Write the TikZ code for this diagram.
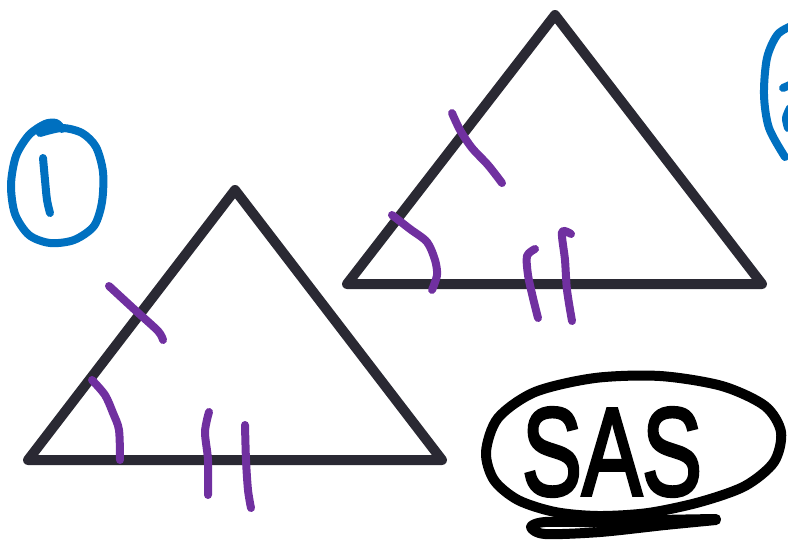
\documentclass[tikz,border=0pt]{standalone}
\usepackage{fontspec}
\newfontfamily\handfont[FakeBold=3]{Liberation Sans}
\definecolor{tri}{RGB}{42,41,51}
\definecolor{mark}{RGB}{112,48,160}
\definecolor{pen}{RGB}{0,112,192}
\tikzset{
  triline/.style={draw=tri, line width=10pt, line join=round, line cap=round},
  tick/.style={draw=mark, line width=8pt, line cap=round, line join=round},
  bluepen/.style={draw=pen, line width=8pt, line cap=round, line join=round},
  blackpen/.style={draw=black, line width=10pt, line cap=round, line join=round},
}
\begin{document}
\begin{tikzpicture}[x=1pt,y=-1pt]
\useasboundingbox (0,0) rectangle (788,547);
% triangle 1
\coordinate (A1) at (28,460);
\coordinate (B1) at (235,190);
\coordinate (C1) at (442,460);
\draw[triline] (A1) -- (B1) -- (C1) -- cycle;
% triangle 2
\coordinate (A2) at (347,284);
\coordinate (B2) at (555,15);
\coordinate (C2) at (762,284);
\draw[triline] (A2) -- (B2) -- (C2) -- cycle;
% marks triangle 1
\draw[tick] plot[smooth] coordinates {(109,286) (135,310) (158,331) (163,340)};
\draw[tick] plot[smooth] coordinates {(92,380) (105,395) (113,413) (119,430) (120,460)};
\draw[tick] plot[smooth] coordinates {(209,412) (205,432) (208,460) (208,495)};
\draw[tick] plot[smooth] coordinates {(245,425) (246,460) (248,490) (251,508)};
% marks triangle 2
\draw[tick] plot[smooth] coordinates {(452,113) (460,130) (472,148) (488,165) (502,183)};
\draw[tick] plot[smooth] coordinates {(392,215) (410,229) (427,242) (435,260) (437,275) (432,290)};
\draw[tick] plot[smooth] coordinates {(535,249) (527,256) (528,275) (533,298) (538,318)};
\draw[tick] plot[smooth] coordinates {(571,234) (562,232) (565,260) (567,290) (572,321)};
% blue 1
\draw[bluepen] plot[smooth] coordinates {(40,133) (62,128) (82,133) (96,147) (103,172) (102,202) (94,226) (74,240) (50,243) (29,235) (15,214) (11,185) (16,156) (29,135) (45,124) (56,123) (62,129)};
\draw[bluepen] plot[smooth] coordinates {(43,158) (45,180) (47,200) (50,213)};
% blue 2 (partial)
\draw[bluepen] plot[smooth] coordinates {(796,24) (778,34) (767,58) (764,95) (769,128) (785,157)};
\draw[bluepen] (783,88) -- (792,84);
\draw[bluepen] plot[smooth] coordinates {(790,108) (786,118) (788,128)};
% SAS
\draw[blackpen] plot[smooth cycle] coordinates {(486,452) (498,418) (535,392) (595,378) (660,376) (722,386) (765,406) (781,432) (774,462) (745,486) (700,502) (648,513) (598,516) (555,512) (518,500) (494,480)};
\draw[blackpen] plot[smooth] coordinates {(716,519) (660,520) (595,522) (545,522) (531,527) (545,534) (600,532) (665,525) (716,520)};
\node[font=\handfont\fontsize{125}{125}\selectfont, text=black, xscale=0.72, inner sep=0pt] (sas) at (612,452) {SAS};
\end{tikzpicture}
\end{document}
